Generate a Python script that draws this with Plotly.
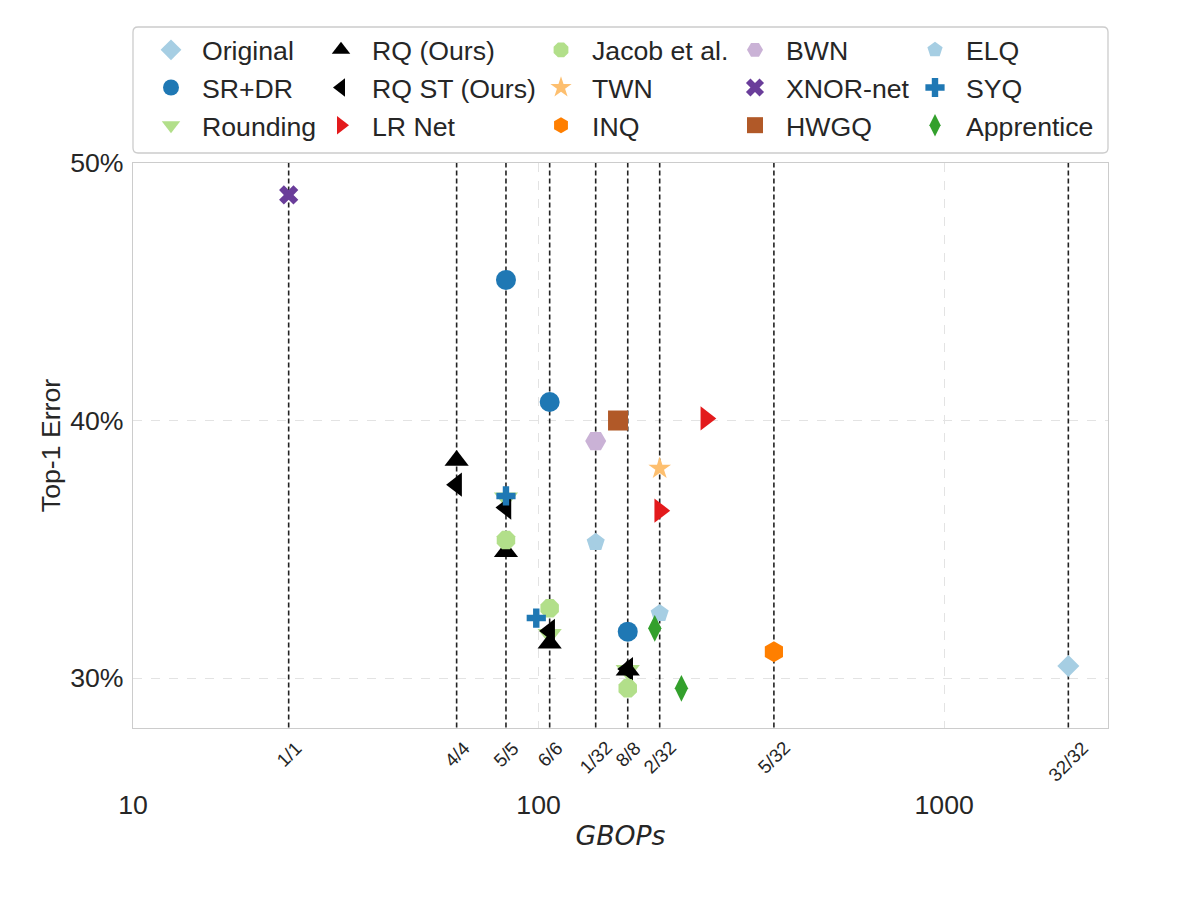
import math
import plotly.graph_objects as go

# ---------------- data ----------------
bit_labels = ["1/1", "4/4", "5/5", "6/6", "1/32", "8/8", "2/32", "5/32", "32/32"]
bit_gbops = [24.2, 62.8, 83.1, 106.5, 138.3, 165.9, 198.9, 380.4, 2024]

x_tick_vals = [10, 100, 1000]
x_tick_text = ["10", "100", "1000"]
y_tick_vals = [30, 40, 50]
y_tick_text = ["30%", "40%", "50%"]

original_x = [2024]
original_y = [30.47]
srdr_x = [83.1, 106.5, 165.9]
srdr_y = [45.46, 40.72, 31.8]
rounding_x = [83.1, 106.5, 165.9]
rounding_y = [37.0, 31.7, 30.3]
rq_x = [62.8, 83.1, 106.5, 165.9]
rq_y = [38.45, 34.9, 31.35, 30.3]
rqst_x = [62.8, 83.1, 106.5, 165.9]
rqst_y = [37.51, 36.62, 31.83, 30.35]
lrnet_x = [258.4, 198.9]
lrnet_y = [40.08, 36.5]
jacob_x = [83.1, 106.5, 165.9]
jacob_y = [35.36, 32.71, 29.6]
twn_x = [198.9]
twn_y = [38.14]
inq_x = [380.4]
inq_y = [31.02]
bwn_x = [138.3]
bwn_y = [39.2]
xnor_x = [24.2]
xnor_y = [48.76]
hwgq_x = [157.0]
hwgq_y = [40.0]
elq_x = [138.3, 198.9]
elq_y = [35.27, 32.51]
syq_x = [83.1, 98.7]
syq_y = [37.07, 32.33]
apprentice_x = [193.4, 225.0]
apprentice_y = [31.93, 29.6]

# ---------------- style ----------------
FONT = "Liberation Sans, Arial, sans-serif"
FS = 26.67
TXT = "#262626"

series = [
    # name, x, y, symbol, color, size, legend
    ("Original", original_x, original_y, "diamond", "#a6cee3", 17, "legend"),
    ("SR+DR", srdr_x, srdr_y, "circle", "#1f78b4", 20, "legend"),
    ("Rounding", rounding_x, rounding_y, "triangle-down", "#b2df8a", 21, "legend"),
    ("RQ (Ours)", rq_x, rq_y, "triangle-up", "#000000", 21, "legend2"),
    ("RQ ST (Ours)", rqst_x, rqst_y, "triangle-left", "#000000", 21, "legend2"),
    ("LR Net", lrnet_x, lrnet_y, "triangle-right", "#e31a1c", 21, "legend2"),
    ("Jacob et al.", jacob_x, jacob_y, "octagon", "#b2df8a", 20, "legend3"),
    ("TWN", twn_x, twn_y, "star", "#fdbf6f", 17, "legend3"),
    ("INQ", inq_x, inq_y, "hexagon", "#ff7f00", 21, "legend3"),
    ("BWN", bwn_x, bwn_y, "hexagon2", "#cab2d6", 21, "legend4"),
    ("XNOR-net", xnor_x, xnor_y, "x", "#6a3d9a", 17, "legend4"),
    ("HWGQ", hwgq_x, hwgq_y, "square", "#b15928", 20, "legend4"),
    ("ELQ", elq_x, elq_y, "pentagon", "#a6cee3", 19, "legend5"),
    ("SYQ", syq_x, syq_y, "cross", "#1f78b4", 16, "legend5"),
    ("Apprentice", apprentice_x, apprentice_y, "diamond-tall", "#33a02c", 19, "legend5"),
]

fig = go.Figure()

# vertical dashed reference lines at bit-width configurations
vx, vy = [], []
for v in bit_gbops:
    vx += [v, v, None]
    vy += [20, 60, None]
fig.add_trace(go.Scatter(x=vx, y=vy, mode="lines",
                         line=dict(color="#222222", width=1.6, dash="5px,3px"),
                         showlegend=False, hoverinfo="skip"))

for name, xs, ys, sym, col, size, lg in series:
    fig.add_trace(go.Scatter(
        x=xs, y=ys, mode="markers", name=name,
        marker=dict(symbol=sym, color=col, size=size, line=dict(width=0)),
        legend=lg, cliponaxis=False))

# bit labels under the axis, rotated
annotations = []
for lab, v in zip(bit_labels, bit_gbops):
    annotations.append(dict(
        x=math.log10(v), y=-0.012, xref="x", yref="paper",
        text=lab, showarrow=False, textangle=-45,
        xanchor="center", yanchor="top",
        font=dict(family=FONT, size=18.7, color=TXT)))

# target pixel geometry (page is drawn with an 8px body offset)
OFF = 8
x_left_px, x_right_px = 133, 1108
top_px, bot_px = 163, 728
W = x_right_px - x_left_px
H = bot_px - top_px


def px_x(p):
    return (p - x_left_px) / W


def px_y(p):
    return (bot_px - p) / H


ITEMW = 52
legend_common = dict(
    font=dict(family=FONT, size=FS, color=TXT),
    bgcolor="rgba(0,0,0,0)", borderwidth=0,
    orientation="v", xanchor="left", yanchor="top",
    tracegroupgap=0, itemwidth=ITEMW,
)
text_starts = [202, 372, 592, 786, 966]
legend_layout = {}
for i, ts in enumerate(text_starts):
    key = "legend" if i == 0 else f"legend{i + 1}"
    legend_layout[key] = dict(legend_common, x=px_x(ts - (ITEMW + 10)), y=px_y(26))

# rounded legend frame (paper coordinates)
bx0, bx1 = px_x(133), px_x(1108)
by0, by1 = px_y(153), px_y(27)
rx, ry = 5 / W, 5 / H
frame_path = (
    f"M{bx0 + rx},{by1} L{bx1 - rx},{by1} Q{bx1},{by1} {bx1},{by1 - ry} "
    f"L{bx1},{by0 + ry} Q{bx1},{by0} {bx1 - rx},{by0} "
    f"L{bx0 + rx},{by0} Q{bx0},{by0} {bx0},{by0 + ry} "
    f"L{bx0},{by1 - ry} Q{bx0},{by1} {bx0 + rx},{by1} Z"
)

fig.update_layout(
    width=1196, height=906,
    margin=dict(l=x_left_px - OFF, r=1196 - x_right_px + OFF, t=top_px - OFF,
                b=906 - bot_px + OFF, autoexpand=False),
    paper_bgcolor="white", plot_bgcolor="white",
    font=dict(family=FONT, size=FS, color=TXT),
    showlegend=True,
    annotations=annotations,
    shapes=[dict(type="path", xref="paper", yref="paper", path=frame_path,
                 line=dict(color="#cccccc", width=1.3), fillcolor="white", layer="below")],
    xaxis=dict(
        type="log", range=[1, 3.404],
        tickvals=x_tick_vals, ticktext=x_tick_text,
        tickfont=dict(family=FONT, size=FS, color=TXT),
        ticks="", ticklabelstandoff=53,
        showgrid=True, gridcolor="#e3e3e3", griddash="dash", gridwidth=1,
        showline=True, linecolor="#cccccc", linewidth=1.3, mirror=True,
        zeroline=False,
        title=dict(text="<i>GBOPs</i>", font=dict(family="DejaVu Sans", size=FS, color=TXT), standoff=7),
    ),
    yaxis=dict(
        range=[28.06, 50],
        tickvals=y_tick_vals, ticktext=y_tick_text,
        tickfont=dict(family=FONT, size=FS, color=TXT),
        ticks="", ticklabelstandoff=3,
        showgrid=True, gridcolor="#e3e3e3", griddash="dash", gridwidth=1,
        showline=True, linecolor="#cccccc", linewidth=1.3, mirror=True,
        zeroline=False,
        title=dict(text="Top-1 Error", font=dict(family=FONT, size=FS, color=TXT), standoff=1),
    ),
    **legend_layout,
)

fig.write_html("out.html")
